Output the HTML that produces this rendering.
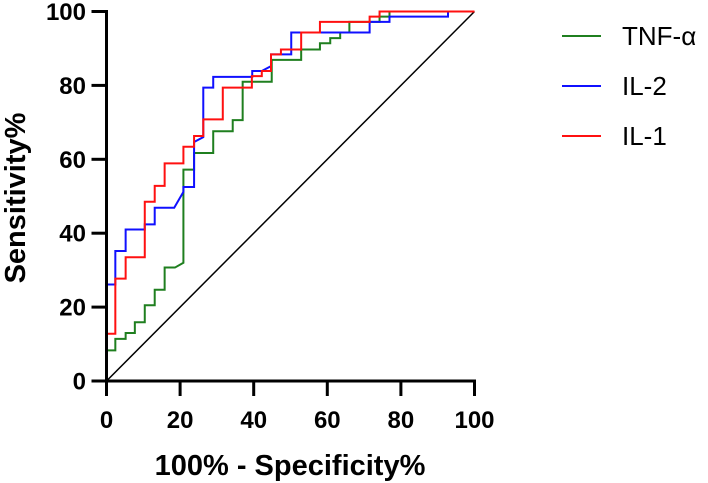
<!DOCTYPE html>
<html><head><meta charset="utf-8"><style>
html,body{margin:0;padding:0;background:#fff;}
svg{display:block;font-family:"Liberation Sans",Arial,sans-serif;}
</style></head><body>
<svg id="chart" width="708" height="483" viewBox="0 0 708 483" xmlns="http://www.w3.org/2000/svg">
<g id="plot"></g>
<g id="axes"></g>
<text x="290" y="475" text-anchor="middle" font-size="29" font-weight="bold">100% - Specificity%</text>
<text transform="translate(25,198) rotate(-90)" text-anchor="middle" font-size="29" font-weight="bold">Sensitivity%</text>
<g id="legend"></g>
</svg>
<script>
const ticks = [0, 20, 40, 60, 80, 100];
const seriesNames = ["TNF-α", "IL-2", "IL-1"];
const seriesColors = ["#1f7f1f", "#1010ff", "#ff1010"];
const tnfX = [0,0,2.4,2.4,5.2,5.2,7.7,7.7,10.4,10.4,13.1,13.1,15.8,15.8,18.6,20.9,20.9,23.8,23.8,29,29,34.3,34.3,37,37,44.9,44.9,52.9,52.9,58,58,60.8,60.8,63.5,63.5,66,66,74.2,74.2,76.9,76.9,100];
const tnfY = [0,8.3,8.3,11.4,11.4,13,13,15.9,15.9,20.5,20.5,24.7,24.7,30.7,30.7,32,57.2,57.2,61.7,61.7,67.6,67.6,70.6,70.6,81,81,86.9,86.9,89.7,89.7,91.4,91.4,92.8,92.8,94.3,94.3,97.2,97.2,98.6,98.6,100,100];
const il2X = [0,0,2.4,2.4,5.2,5.2,10.4,10.4,13.1,13.1,18.4,20.9,20.9,23.8,23.8,26.3,26.3,29,29,39.6,39.6,42.2,44.7,44.7,50.2,50.2,71.5,71.5,76.9,76.9,92.8,92.8,100];
const il2Y = [0,26.1,26.1,35.2,35.2,41,41,42.4,42.4,46.9,46.9,51.2,52.5,52.5,64.7,66,79.4,79.4,82.3,82.3,83.9,83.9,85.2,88.4,88.4,94.3,94.3,97.2,97.2,98.6,98.6,100,100];
const il1X = [0,0,2.4,2.4,5.2,5.2,10.4,10.4,13.1,13.1,15.8,15.8,20.9,20.9,23.8,23.8,26.3,26.3,31.6,31.6,39.5,39.5,42.2,42.2,44.7,44.7,47.4,47.4,52.9,52.9,58,58,71.5,71.5,74.2,74.2,100];
const il1Y = [0,12.8,12.8,27.7,27.7,33.5,33.5,48.5,48.5,52.8,52.8,58.9,58.9,63.4,63.4,66.3,66.3,70.8,70.8,79.4,79.4,82.5,82.5,83.9,83.9,88.4,88.4,89.7,89.7,94.3,94.3,97.2,97.2,98.6,98.6,100,100];

const NS = "http://www.w3.org/2000/svg";
const X0 = 106.5, X1 = 474.5, Y0 = 381, Y1 = 11.5;
function sx(v){ return X0 + (X1 - X0) * v / 100; }
function sy(v){ return Y0 - (Y0 - Y1) * v / 100; }
function mk(tag, attrs, parent){ const e = document.createElementNS(NS, tag); for (const k in attrs) e.setAttribute(k, attrs[k]); parent.appendChild(e); return e; }

const plot = document.getElementById("plot");
const diag = mk("line", {x1: sx(0), y1: sy(0), x2: sx(100), y2: sy(100), stroke: "#000", "stroke-width": 1.5}, plot);



const allX = [tnfX, il2X, il1X], allY = [tnfY, il2Y, il1Y];
const curveNames = ['tnf-alpha-curve', 'il-2-curve', 'il-1-curve'];
for (let s = 0; s < 3; s++) {
  const pts = allX[s].map((x, i) => sx(x).toFixed(2) + "," + sy(allY[s][i]).toFixed(2)).join(" ");
  const pl = mk("polyline", {points: pts, fill: "none", stroke: seriesColors[s], "stroke-width": 2}, plot);
  
  
}

const axes = document.getElementById("axes");
const xa = mk("line", {x1: X0 - 1.5, y1: Y0, x2: X1 + 1.5, y2: Y0, stroke: "#000", "stroke-width": 3}, axes);


const ya = mk("line", {x1: X0, y1: Y0 + 1.5, x2: X0, y2: Y1 - 1.5, stroke: "#000", "stroke-width": 3}, axes);


ticks.forEach(t => {
  const a = mk("line", {x1: sx(t), y1: Y0, x2: sx(t), y2: Y0 + 15, stroke: "#000", "stroke-width": 3}, axes);
  
  
  const lt = mk("text", {x: sx(t), y: 428, "text-anchor": "middle", "font-size": 24, "font-weight": "bold"}, axes);
  lt.textContent = t;
  
  
  const b = mk("line", {x1: X0 - 15, y1: sy(t), x2: X0, y2: sy(t), stroke: "#000", "stroke-width": 3}, axes);
  
  
  const ly = mk("text", {x: 86, y: sy(t) + 8.5, "text-anchor": "end", "font-size": 24, "font-weight": "bold"}, axes);
  ly.textContent = t;
  
  
});

const legend = document.getElementById("legend");
const legY = [36, 86, 136];
for (let s = 0; s < 3; s++) {
  const g = mk("g", {}, legend);
  
  
  mk("line", {x1: 562, y1: legY[s], x2: 601, y2: legY[s], stroke: seriesColors[s], "stroke-width": 2}, g);
  const t = mk("text", {x: 622, y: legY[s] + 9, "font-size": 26}, g);
  t.textContent = seriesNames[s];
}
</script>
</body></html>
